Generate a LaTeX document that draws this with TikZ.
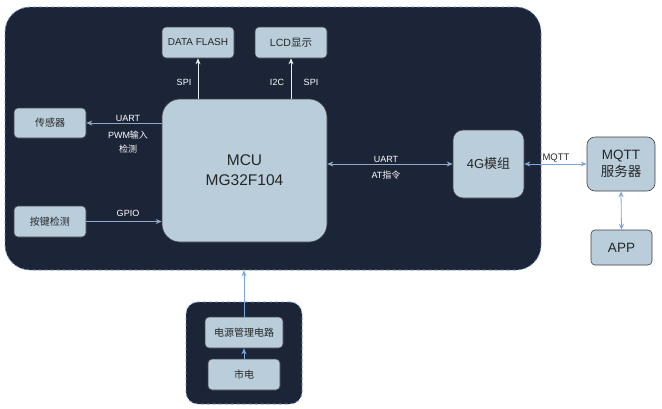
\documentclass[tikz,border=0pt]{standalone}
\usepackage{fontspec}
\setmainfont{Liberation Sans}
\newfontfamily\cjk{Noto Sans CJK SC}
\usetikzlibrary{arrows.meta}
\definecolor{darkbg}{HTML}{1C2538}
\definecolor{boxf}{HTML}{BACDDB}
\definecolor{edgeblue}{HTML}{6C8EBF}
\definecolor{arrblue}{HTML}{7EA6E0}
\definecolor{arrgrey}{HTML}{8FAAC6}
\definecolor{arrwhite}{HTML}{E6ECF2}
\tikzset{
  container/.style={draw=edgeblue, dashed, fill=darkbg, line width=0.8pt},
  blk/.style={draw=black!75, fill=boxf, rounded corners=4pt, inner sep=0pt, text=black!85, align=center, line width=0.6pt},
  lbl/.style={text=white, font=\fontsize{9}{10}\selectfont, inner sep=0pt},
  warr/.style={draw=arrwhite, line width=0.8pt, -{Stealth[length=6pt,width=5pt]}},
  garr/.style={draw=arrgrey, line width=0.8pt, -{Stealth[length=6pt,width=5pt]}},
  gdarr/.style={draw=arrgrey, line width=0.8pt, {Stealth[length=6pt,width=5pt]}-{Stealth[length=6pt,width=5pt]}},
  barr/.style={draw=arrblue, line width=0.8pt, -{Stealth[length=6pt,width=5pt]}},
  bdarr/.style={draw=arrblue, line width=0.8pt, {Stealth[length=6pt,width=5pt]}-{Stealth[length=6pt,width=5pt]}}
}
\begin{document}
\begin{tikzpicture}[x=1pt,y=-1pt]
\useasboundingbox (0,0) rectangle (662,408);
% containers
\node[container, rounded corners=25pt, minimum width=536pt, minimum height=263pt, inner sep=0pt] (main) at (273,138.5) {};
\node[container, rounded corners=12pt, minimum width=116pt, minimum height=102pt, inner sep=0pt] (pwr) at (244,353) {};
% blocks
\node[blk, minimum width=72pt, minimum height=31pt, font=\fontsize{10}{12}\selectfont] (flash) at (198,42.5) {DATA FLASH};
\node[blk, minimum width=72pt, minimum height=31pt, font=\fontsize{10.5}{12}\selectfont] (lcd) at (291,42.5) {LCD{\cjk 显示}};
\node[blk, rounded corners=18pt, minimum width=165pt, minimum height=143pt, font=\fontsize{15.5}{20}\selectfont] (mcu) at (244.5,170.5) {MCU\\MG32F104};
\node[blk, minimum width=72pt, minimum height=30pt, font=\fontsize{10}{12}\selectfont] (sensor) at (50,123) {\cjk 传感器};
\node[blk, minimum width=72pt, minimum height=31pt, font=\fontsize{10}{12}\selectfont] (key) at (50,221.5) {\cjk 按键检测};
\node[blk, rounded corners=10pt, minimum width=71pt, minimum height=68pt, font=\fontsize{13}{16}\selectfont] (g4) at (488.5,164) {4G{\cjk 模组}};
\node[blk, rounded corners=8pt, minimum width=68pt, minimum height=54pt, font=\fontsize{13.5}{17}\selectfont] (mqtt) at (621,164) {MQTT\\{\cjk 服务器}};
\node[blk, minimum width=61pt, minimum height=35pt, font=\fontsize{13.5}{16}\selectfont] (app) at (621.5,247.5) {APP};
\node[blk, minimum width=78pt, minimum height=31pt, font=\fontsize{10}{12}\selectfont] (pmc) at (244,332.5) {\cjk 电源管理电路};
\node[blk, minimum width=72pt, minimum height=31pt, font=\fontsize{10}{12}\selectfont] (mains) at (244,374.5) {\cjk 市电};
% connectors
\draw[warr] (mcu.north -| flash) -- (flash.south);
\draw[warr] (mcu.north -| lcd) -- (lcd.south);
\draw[garr] (mcu.west |- sensor) -- (sensor.east);
\draw[garr] (key.east) -- (key -| mcu.west);
\draw[gdarr] (mcu.east |- g4) -- (g4.west);
\draw[bdarr] (g4.east) -- (mqtt.west);
\draw[bdarr] (mqtt.south) -- (app.north);
\draw[barr] (pmc.north) -- (pmc |- main.south);
\draw[barr] (mains.north) -- (pmc.south);
% labels
\node[lbl] (l1) at (184,82) {SPI};
\node[lbl] (l2) at (277,82) {I2C};
\node[lbl] (l3) at (311,82) {SPI};
\node[lbl] (l4) at (128,118) {UART};
\node[lbl] (l5) at (128,135) {PWM{\cjk 输入}};
\node[lbl] (l6) at (128,149) {\cjk 检测};
\node[lbl] (l7) at (128,213) {GPIO};
\node[lbl] (l8) at (386,159) {UART};
\node[lbl] (l9) at (386,175) {AT{\cjk 指令}};
\node[lbl, text=black!85, font=\fontsize{9.5}{10}\selectfont] (l10) at (556,158) {MQTT};
\end{tikzpicture}
\end{document}
